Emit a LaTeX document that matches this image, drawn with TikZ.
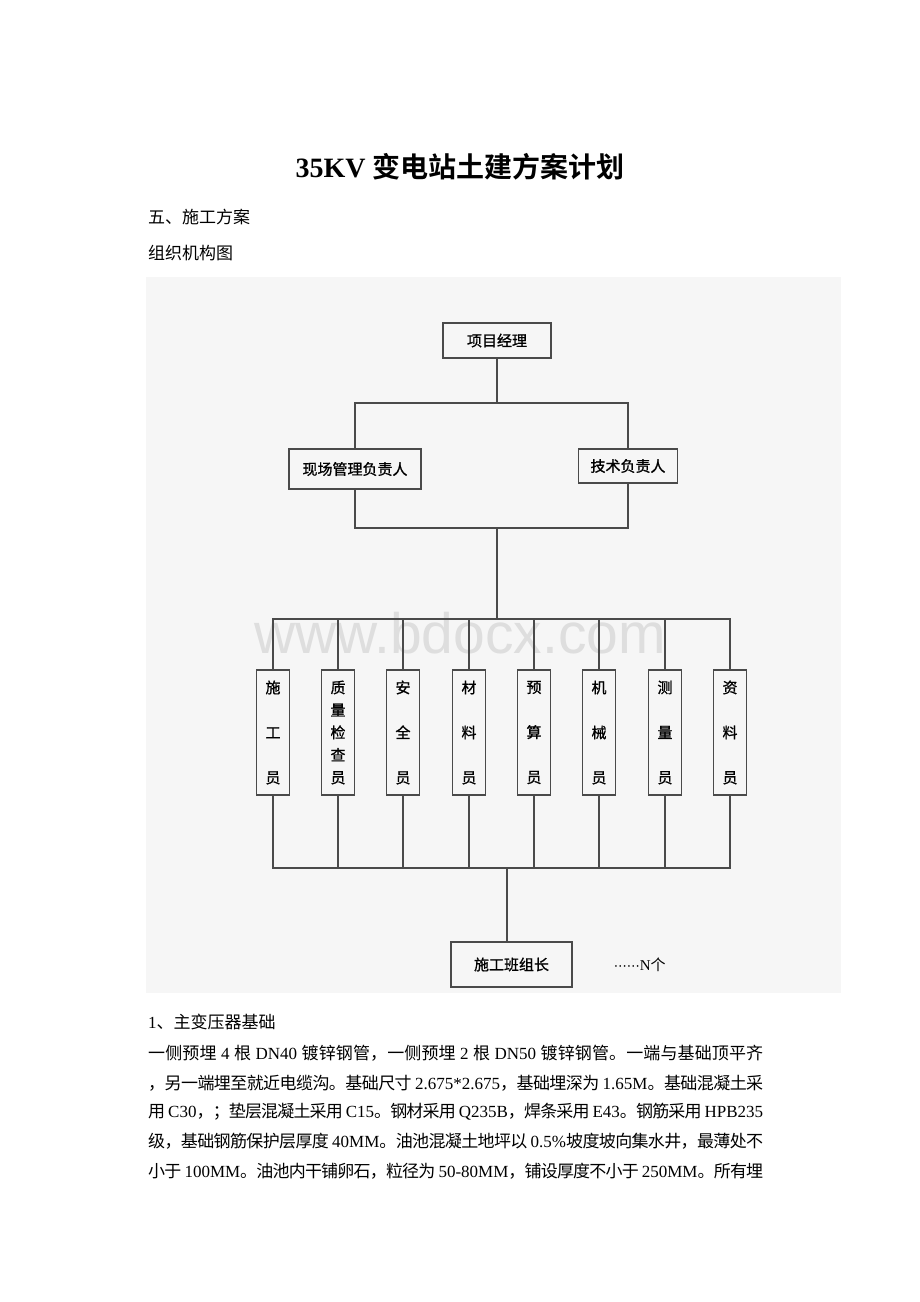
\documentclass[tikz,border=0pt]{standalone}
\usepackage{fontspec}
\setmainfont{Liberation Serif}
\setsansfont{Liberation Sans}
\newfontfamily\cjk{Noto Sans CJK SC}[BoldFont={Noto Sans CJK SC Bold}]
\newfontfamily\cjkbox{Noto Sans CJK SC}[FakeBold=1]
\newfontfamily\dotsfont{DejaVu Sans}
\usetikzlibrary{positioning}

% CJK characters switch to the CJK family by themselves
\XeTeXinterchartokenstate=1
\newXeTeXintercharclass\cjkclass
\newcount\cjkcnt
\def\setcjkrange#1#2{\cjkcnt=#1 \loop\XeTeXcharclass\cjkcnt=\cjkclass \ifnum\cjkcnt<#2 \advance\cjkcnt by 1 \repeat}
\setcjkrange{"3000}{"303F}
\setcjkrange{"4E00}{"9FFF}
\setcjkrange{"FF00}{"FFEF}
\def\cjkfont{\cjk}
\XeTeXinterchartoks 0 \cjkclass = {\cjkfont}
\XeTeXinterchartoks 4095 \cjkclass = {\cjkfont}
\XeTeXinterchartoks \cjkclass 0 = {\rmfamily}
\XeTeXinterchartoks \cjkclass 4095 = {\rmfamily}
\XeTeXinterchartoks \cjkclass \cjkclass = {\hskip 0pt plus 1pt minus 1pt}
\newcommand{\bodyline}[1]{\hbox to 615pt{#1}}

\definecolor{chartbg}{HTML}{F6F6F6}
\definecolor{chartline}{HTML}{4A4A4A}

\begin{document}
\begin{tikzpicture}[
    x=1pt, y=-1pt,
    body/.style={anchor=west, inner sep=0pt, font=\fontsize{17}{20}\selectfont},
    box/.style={rectangle, draw=chartline, line width=1.4pt, fill=chartbg, inner sep=0pt, font=\let\cjkfont\cjkbox\fontsize{15}{18}\selectfont},
    staff/.style={box, minimum width=33pt, minimum height=125pt, align=center, font=\let\cjkfont\cjkbox\fontsize{15}{22.5}\selectfont},
    link/.style={draw=chartline, line width=1.2pt}
]
\useasboundingbox[fill=white] (0,0) rectangle (920,1302);

% Page text
\node[inner sep=0pt, font=\bfseries\fontsize{28}{32}\selectfont] (title) at (460,167) {35KV 变电站土建方案计划};
\node[body] (sec) at (148,217) {五、施工方案};
\node[body] (orgtitle) at (148,253) {组织机构图};

% Chart area
\fill[chartbg] (146,277) rectangle (841,993);
\node[text=black!13, inner sep=0pt, font=\sffamily\fontsize{57}{60}\selectfont] (wm) at (460,633) {www.bdocx.com};

% Management
\node[box, minimum width=108pt, minimum height=35pt] (pm) at (497,340.5) {项目经理};
\node[box, minimum width=132pt, minimum height=40pt] (site) at (355,469) {现场管理负责人};
\node[box, minimum width=99pt, minimum height=34pt] (tech) at (628,466) {技术负责人};

% Staff
\node[staff] (s1) at (273,732.5) {施\\[22.5pt]工\\[22.5pt]员};
\node[staff] (s2) at (338,732.5) {质\\量\\检\\查\\员};
\node[staff] (s3) at (403,732.5) {安\\[22.5pt]全\\[22.5pt]员};
\node[staff] (s4) at (469,732.5) {材\\[22.5pt]料\\[22.5pt]员};
\node[staff] (s5) at (534,732.5) {预\\[22.5pt]算\\[22.5pt]员};
\node[staff] (s6) at (599,732.5) {机\\[22.5pt]械\\[22.5pt]员};
\node[staff] (s7) at (665,732.5) {测\\[22.5pt]量\\[22.5pt]员};
\node[staff] (s8) at (730,732.5) {资\\[22.5pt]料\\[22.5pt]员};

% Team leader
\node[box, minimum width=121pt, minimum height=45pt] (lead) at (511.5,964.5) {施工班组长};
\node[inner sep=0pt, right=41pt of lead, font=\fontsize{15}{18}\selectfont] (more) {{\dotsfont\fontsize{13}{18}\selectfont ⋯⋯}N个};

% Junctions
\coordinate (j1) at (497,403);
\coordinate (j2) at (497,528);
\coordinate (j3) at (497,619);
\coordinate (j4) at (507,868);

% Connections
\draw[link] (pm.south) -- (j1);
\draw[link] (site.north) |- (j1) -| (tech.north);
\draw[link] (site.south) |- (j2) -| (tech.south);
\draw[link] (j2) -- (j3);
\draw[link] (s1.north) |- (j3) -| (s8.north);
\draw[link] (s2.north) -- (s2.north |- j3);
\draw[link] (s3.north) -- (s3.north |- j3);
\draw[link] (s4.north) -- (s4.north |- j3);
\draw[link] (s5.north) -- (s5.north |- j3);
\draw[link] (s6.north) -- (s6.north |- j3);
\draw[link] (s7.north) -- (s7.north |- j3);
\draw[link] (s1.south) |- (j4) -| (s8.south);
\draw[link] (s2.south) -- (s2.south |- j4);
\draw[link] (s3.south) -- (s3.south |- j4);
\draw[link] (s4.south) -- (s4.south |- j4);
\draw[link] (s5.south) -- (s5.south |- j4);
\draw[link] (s6.south) -- (s6.south |- j4);
\draw[link] (s7.south) -- (s7.south |- j4);
\draw[link] (j4) -- (j4 |- lead.north);

% Section 1
\node[body] (sub1) at (148,1022) {1、主变压器基础};
\node[body] (p1) at (148,1053) {\bodyline{一侧预埋 4 根 DN40 镀锌钢管，一侧预埋 2 根 DN50 镀锌钢管。一端与基础顶平齐}};
\node[body] (p2) at (148,1083) {\bodyline{，另一端埋至就近电缆沟。基础尺寸 2.675*2.675，基础埋深为 1.65M。基础混凝土采}};
\node[body] (p3) at (148,1112) {\bodyline{用 C30，；垫层混凝土采用 C15。钢材采用 Q235B，焊条采用 E43。钢筋采用 HPB235}};
\node[body] (p4) at (148,1141) {\bodyline{级，基础钢筋保护层厚度 40MM。油池混凝土地坪以 0.5\%坡度坡向集水井，最薄处不}};
\node[body] (p5) at (148,1171) {\bodyline{小于 100MM。油池内干铺卵石，粒径为 50-80MM，铺设厚度不小于 250MM。所有埋}};

\end{tikzpicture}
\end{document}
